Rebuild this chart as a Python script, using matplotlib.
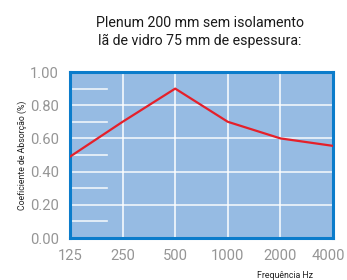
import matplotlib
matplotlib.use("Agg")
import matplotlib.pyplot as plt
import matplotlib.transforms as mtransforms
import numpy as np

freqs = ["125", "250", "500", "1000", "2000", "4000"]
absorption = [0.49, 0.70, 0.90, 0.70, 0.60, 0.555]
yticks = [0.0, 0.2, 0.4, 0.6, 0.8, 1.0]
minor_y = [0.1, 0.3, 0.5, 0.7, 0.9]
title = "Plenum 200 mm sem isolamento\nlã de vidro 75 mm de espessura:"
ylabel = "Coeficiente de Absorção (%)"
xlabel = "Frequência Hz"

plt.rcParams['font.family'] = ['Roboto', 'DejaVu Sans']

fig = plt.figure(figsize=(3.47, 2.80), dpi=100)
ax = fig.add_axes([70/347, 1-238/280, 263/347, 166/280])
x = np.arange(len(freqs))
ax.set_facecolor("#96bbe3")
ax.set_xlim(0, len(freqs)-1)
ax.set_ylim(0, 1.0)

for v in yticks[1:-1]:
    ax.axhline(v, color="white", lw=1.2, alpha=0.85, zorder=1)
for v in x[1:-1]:
    ax.axvline(v, color="white", lw=1.2, alpha=0.9, zorder=1)
for v in minor_y:
    ax.plot([0, 0.7], [v, v], color="white", lw=1.2, alpha=0.85, zorder=1)

ax.plot(x, absorption, color="#e5202a", lw=1.6, zorder=3)

for s in ax.spines.values():
    s.set_color("#0b7ccb")
    s.set_linewidth(2.2)

ax.set_xticks(x)
ax.set_xticklabels(freqs)
ax.set_yticks(yticks)
ax.set_yticklabels([f"{v:.2f}" for v in yticks])
ax.tick_params(length=0, labelsize=10.6, labelcolor="#959595", pad=8)
ax.tick_params(axis='y', pad=8)

fig.canvas.draw()
last = ax.get_xticklabels()[-1]
last.set_transform(last.get_transform() + mtransforms.ScaledTranslation(-5/100, 0, fig.dpi_scale_trans))

fig.text(22/347, 1-155/280, ylabel, rotation=90, ha="center", va="center", fontsize=6.3, color="#222222")
fig.text(285/347, 1-278/280, xlabel, ha="center", va="baseline", fontsize=6.3, color="#222222")
fig.text(200/347, 1-32/280, title, ha="center", va="center", fontsize=10.2, color="#1a1a1a", linespacing=1.35)

fig.savefig("out.png", dpi=100)
